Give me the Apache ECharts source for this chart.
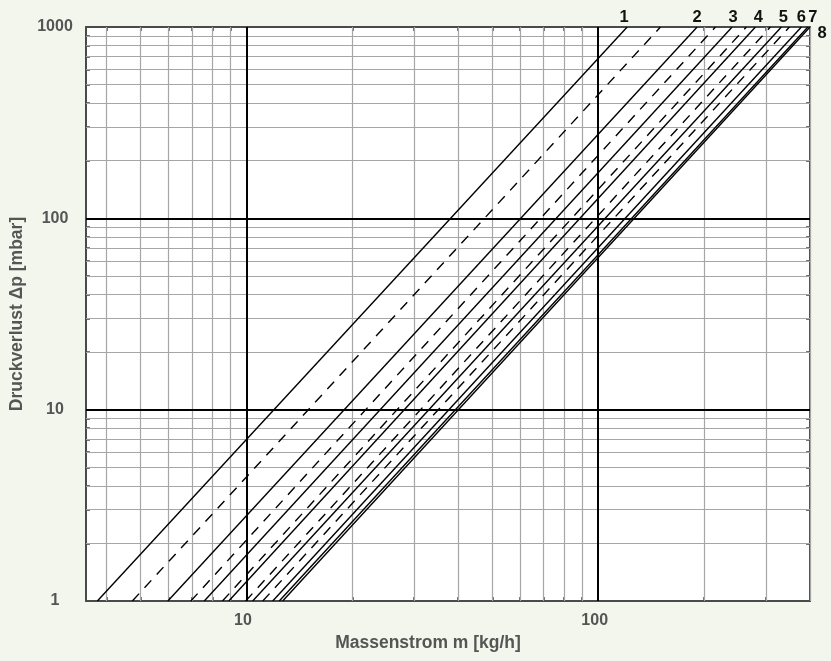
<!DOCTYPE html>
<html>
<head>
<meta charset="utf-8">
<title>Druckverlust</title>
<script src="https://cdn.jsdelivr.net/npm/echarts@6/dist/echarts.min.js"></script>
<style>
  html, body { margin: 0; padding: 0; background: #f3f6ec; }
  #chart { width: 831px; height: 661px; }
</style>
</head>
<body>
<div id="chart"></div>
<script>
// Pressure-loss curves: Δp over mass flow, log-log.
// Each curve is given by its mass flow at Δp = 1 mbar and at Δp = 1000 mbar.
const pressureEnds = [1, 1000];

const solidLabels = ['1', '2', '3', '4', '5', '6', '7', '8'];
const solidFlowAtLow = [3.77, 5.98, 7.59, 8.91, 10.42, 11.88, 12.40, 12.68];
const solidFlowAtHigh = [120.9, 191.1, 240.3, 279.9, 331.7, 378.1, 394.5, 400];

const dashedFlowAtLow = [4.74, 6.95, 8.55, 9.95, 11.13];
const dashedFlowAtHigh = [150.3, 215.4, 263.8, 308.7, 349.6];

// Axis ranges, labels and grid lines
const xRange = [3.5, 400];
const yRange = [1, 1000];
const xTickLabels = [10, 100];
const yTickLabels = [1, 10, 100, 1000];
const xMajorGrid = [10, 100];
const yMajorGrid = [10, 100];
const xMinorGrid = [4, 5, 6, 7, 8, 9, 20, 30, 40, 50, 60, 70, 80, 90, 200, 300, 400];
const yMinorGrid = [2, 3, 4, 5, 6, 7, 8, 9, 20, 30, 40, 50, 60, 70, 80, 90,
                    200, 300, 400, 500, 600, 700, 800, 900];

const FONT = "'Liberation Sans', Arial, sans-serif";
const TEXT_COLOR = '#555555';
const FRAME_COLOR = '#4a4a4a';

const chart = echarts.init(document.getElementById('chart'), null, { renderer: 'canvas' });

function isLabelValue(list) {
  return function (v) {
    return list.some(function (t) { return Math.abs(v - t) / t < 1e-6; }) ? String(v) : '';
  };
}

const allXTicks = xMinorGrid.concat(xMajorGrid);
const allYTicks = yMinorGrid.concat(yMajorGrid);

function frameAxis(extra) {
  return Object.assign({
    axisLine: { show: true, onZero: false, lineStyle: { color: FRAME_COLOR, width: 2 } },
    splitLine: { show: false },
    minorTick: { show: false },
    minorSplitLine: { show: false }
  }, extra);
}

const xAxes = [
  frameAxis({
    type: 'log', logBase: 10, min: xRange[0], max: xRange[1], position: 'bottom',
    name: 'Massenstrom m [kg/h]', nameLocation: 'middle', nameGap: 33,
    nameTextStyle: { fontFamily: FONT, fontWeight: 'bold', fontSize: 17.5, color: TEXT_COLOR,
                     padding: [0, 40, 0, 0] },
    axisTick: { show: true, inside: true, length: 4, customValues: allXTicks,
                lineStyle: { color: FRAME_COLOR, width: 1.5 } },
    axisLabel: { show: true, margin: 11, fontFamily: FONT, fontWeight: 'bold', fontSize: 16,
                 color: TEXT_COLOR, padding: [1, 7, 0, 0],
                 formatter: isLabelValue(xTickLabels), showMinLabel: true, showMaxLabel: true }
  }),
  frameAxis({
    type: 'log', logBase: 10, min: xRange[0], max: xRange[1], position: 'top',
    axisTick: { show: true, inside: true, length: 4, customValues: allXTicks,
                lineStyle: { color: FRAME_COLOR, width: 1.5 } },
    axisLabel: { show: false }
  })
];

const yAxes = [
  frameAxis({
    type: 'log', logBase: 10, min: yRange[0], max: yRange[1], position: 'left',
    name: 'Druckverlust Δp [mbar]', nameLocation: 'middle', nameGap: 60, nameRotate: 90,
    nameTextStyle: { fontFamily: FONT, fontWeight: 'bold', fontSize: 17.5, color: TEXT_COLOR },
    axisTick: { show: true, inside: true, length: 4, customValues: allYTicks,
                lineStyle: { color: FRAME_COLOR, width: 1.5 } },
    axisLabel: { show: true, margin: 31, align: 'center', fontFamily: FONT, fontWeight: 'bold',
                 fontSize: 16, color: TEXT_COLOR, formatter: isLabelValue(yTickLabels) }
  }),
  frameAxis({
    type: 'log', logBase: 10, min: yRange[0], max: yRange[1], position: 'right',
    axisTick: { show: true, inside: true, length: 4, customValues: allYTicks,
                lineStyle: { color: FRAME_COLOR, width: 1.5 } },
    axisLabel: { show: false }
  })
];

// Grid lines drawn as mark lines on the log axes
function gridSeries(values, key, color, width, z) {
  return {
    type: 'line', data: [], silent: true, z: z, xAxisIndex: 0, yAxisIndex: 0,
    markLine: {
      silent: true, z: z, symbol: ['none', 'none'], animation: false,
      label: { show: false },
      lineStyle: { color: color, width: width, type: 'solid' },
      emphasis: { disabled: true },
      data: values.map(function (v) { const d = {}; d[key] = v; return d; })
    }
  };
}

const series = [
  gridSeries(xMinorGrid, 'xAxis', '#a6a6a6', 1.2, 1),
  gridSeries(yMinorGrid, 'yAxis', '#a6a6a6', 1.2, 1),
  gridSeries(xMajorGrid, 'xAxis', '#000000', 2, 2),
  gridSeries(yMajorGrid, 'yAxis', '#000000', 2, 2)
];

dashedFlowAtLow.forEach(function (m0, i) {
  series.push({
    type: 'line', name: 'dashed ' + (i + 1), z: 4,
    showSymbol: false, symbol: 'none', silent: true, animation: false,
    lineStyle: { color: '#000', width: 1.4, type: [10, 8] },
    data: [[m0, pressureEnds[0]], [dashedFlowAtHigh[i], pressureEnds[1]]]
  });
});

const labelShift = [[-3, -1], [0, -1], [1, -1], [3, -1], [2, -1], [0, -1], [5, -1], [12, 15]];

solidFlowAtLow.forEach(function (m0, i) {
  series.push({
    type: 'line', name: solidLabels[i], z: 5,
    showSymbol: false, symbol: 'none', silent: true, animation: false,
    lineStyle: { color: '#000', width: 1.4, type: 'solid' },
    endLabel: {
      show: true, formatter: solidLabels[i], distance: 0,
      align: 'center', verticalAlign: 'bottom', offset: labelShift[i],
      fontFamily: FONT, fontWeight: 'bold', fontSize: 16.5, color: '#111'
    },
    data: [[m0, pressureEnds[0]], [solidFlowAtHigh[i], pressureEnds[1]]]
  });
});

chart.setOption({
  backgroundColor: '#f3f6ec',
  animation: false,
  grid: [{ left: 85, top: 27, width: 725, height: 574, containLabel: false,
           backgroundColor: '#ffffff', show: true, borderWidth: 0 }],
  xAxis: xAxes,
  yAxis: yAxes,
  series: series
});
</script>
</body>
</html>
